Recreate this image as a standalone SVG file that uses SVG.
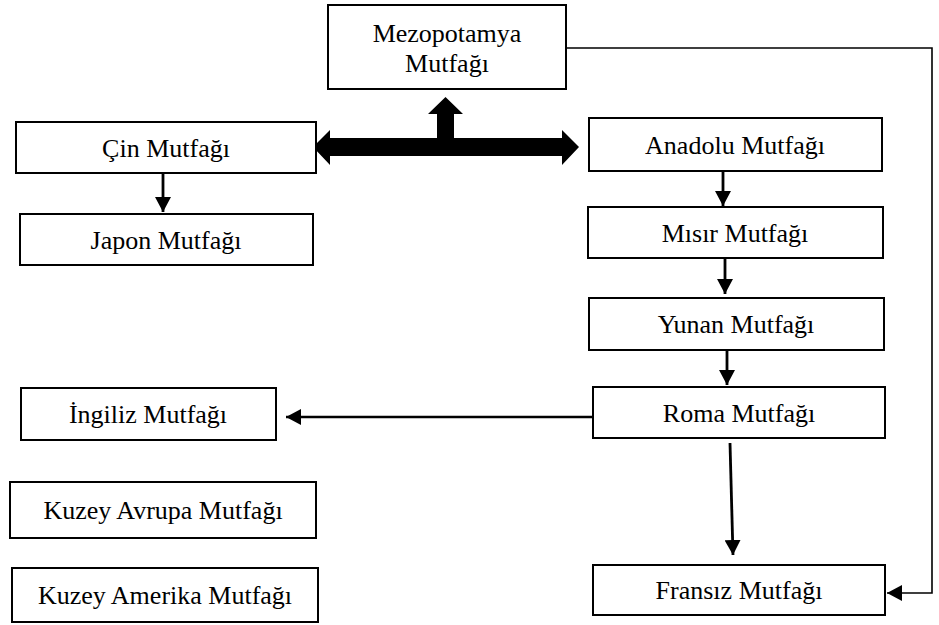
<svg xmlns="http://www.w3.org/2000/svg" width="939" height="625" viewBox="0 0 939 625">
<style>
.box{fill:#fff;stroke:#000;stroke-width:2}
.t{font-family:"Liberation Serif","Times New Roman",serif;font-size:26px;fill:#000;text-anchor:middle}
.c{fill:none;stroke:#000;stroke-width:2.8}
.h{fill:none;stroke:#000;stroke-width:2.5}
.thin{fill:none;stroke:#000;stroke-width:1.6}
</style>
<defs>
<marker id="ah" markerUnits="userSpaceOnUse" markerWidth="16" markerHeight="16" refX="15" refY="8" orient="auto">
<path d="M0,0 L15,8 L0,16 Z" fill="#000"/>
</marker>
</defs>
<rect width="939" height="625" fill="#fff"/>
<g id="connectors">
<polygon fill="#000" points="313,147 330,130 330,138 437,138 437,114 428,114 445.5,97 463,114 454,114 454,138 562,138 562,130 579,147 562,165 562,156 330,156 330,165"/>
<line class="c" x1="163" y1="174" x2="163" y2="212" marker-end="url(#ah)"/>
<line class="c" x1="723" y1="172" x2="723" y2="206" marker-end="url(#ah)"/>
<line class="c" x1="725" y1="259" x2="725" y2="294" marker-end="url(#ah)"/>
<line class="c" x1="727" y1="351" x2="727" y2="385" marker-end="url(#ah)"/>
<line class="c" x1="730" y1="443" x2="733" y2="555" marker-end="url(#ah)"/>
<line class="h" x1="593" y1="417" x2="286" y2="417" marker-end="url(#ah)"/>
<polyline class="thin" points="566,48 932,48 932,593 887,593" marker-end="url(#ah)"/>
</g>
<g id="mezopotamya"><rect class="box" x="328" y="5" width="238" height="84"/><text class="t" x="447" y="42">Mezopotamya</text><text class="t" x="447" y="72">Mutfağı</text></g>
<g id="cin"><rect class="box" x="16" y="122" width="300" height="51"/><text class="t" x="166" y="157">Çin Mutfağı</text></g>
<g id="japon"><rect class="box" x="20" y="214" width="293" height="51"/><text class="t" x="166" y="249">Japon Mutfağı</text></g>
<g id="anadolu"><rect class="box" x="589" y="118" width="293" height="53"/><text class="t" x="735" y="154">Anadolu Mutfağı</text></g>
<g id="misir"><rect class="box" x="588" y="207" width="295" height="51"/><text class="t" x="735" y="242">Mısır Mutfağı</text></g>
<g id="yunan"><rect class="box" x="589" y="298" width="295" height="52"/><text class="t" x="736" y="333">Yunan Mutfağı</text></g>
<g id="roma"><rect class="box" x="593" y="387" width="292" height="51"/><text class="t" x="739" y="422">Roma Mutfağı</text></g>
<g id="ingiliz"><rect class="box" x="21" y="388" width="255" height="52"/><text class="t" x="148" y="423">İngiliz Mutfağı</text></g>
<g id="fransiz"><rect class="box" x="593" y="565" width="292" height="50"/><text class="t" x="739" y="599">Fransız Mutfağı</text></g>
<g id="kuzey-avrupa"><rect class="box" x="10" y="482" width="306" height="56"/><text class="t" x="163" y="519">Kuzey Avrupa Mutfağı</text></g>
<g id="kuzey-amerika"><rect class="box" x="12" y="568" width="306" height="54"/><text class="t" x="165" y="604">Kuzey Amerika Mutfağı</text></g>
</svg>
